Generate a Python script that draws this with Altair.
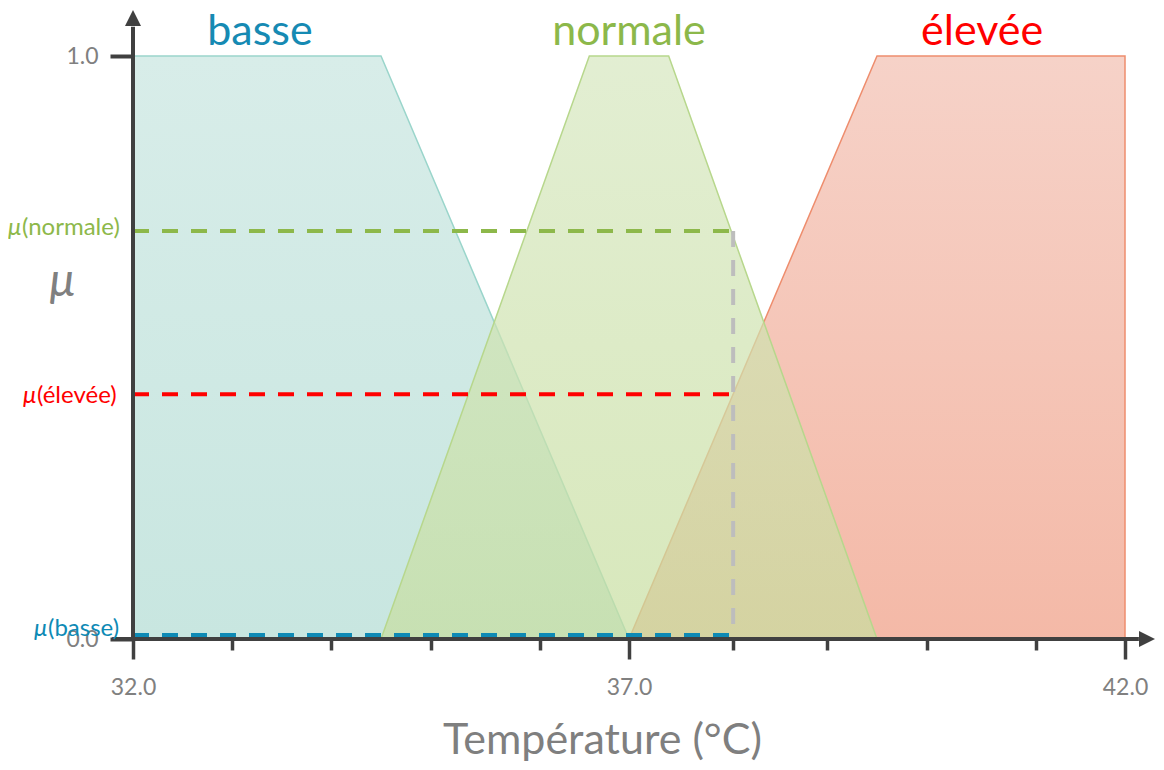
import altair as alt
import pandas as pd

# ---- membership functions (temperature in °C, membership mu) ----
basse_x = [32.0, 34.5, 37.0]
basse_mu = [1.0, 1.0, 0.0]
normale_x = [34.5, 36.6, 37.4, 39.5]
normale_mu = [0.0, 1.0, 1.0, 0.0]
elevee_x = [37.0, 39.5, 42.0]
elevee_mu = [0.0, 1.0, 1.0]

set_names = ["basse", "normale", "élevée"]
set_colors = ["#168ab3", "#8cb84a", "#ff0000"]
set_label_x = [33.28, 37.0, 40.56]
set_label_y = [1.019, 1.019, 1.019]

# ---- fuzzification of one input temperature ----
t_input = 38.05
mu_sets = ["basse", "normale", "élevée"]
mu_values = [0.007, 0.70, 0.42]
mu_texts = ["(basse)", "(normale)", "(élevée)"]
mu_label_x = [31.143, 30.881, 31.032]
mu_label_y = [0.017, 0.705, 0.416]
dash_colors = ["#0e8ab5", "#8db84a", "#ff0000"]

# ---- axes ----
x_ticks = [32, 33, 34, 35, 36.1, 37, 38.05, 39, 40, 41.1, 42]
x_major = [32, 37, 42]
y_ticks = [0, 1]
x_axis_line = [31.79, 42.14]
y_axis_line = [0.0, 1.05]
arrow_x = [42.222]
arrow_y = [1.065]

FONT = "Lato"
AXIS_COLOR = "#404040"
GRAY = "#808080"

major_test = " || ".join(f"datum.value == {v}" for v in x_major)

xs = alt.Scale(domain=[32, 42], nice=False, zero=False)
ys = alt.Scale(domain=[0, 1], nice=False, zero=False)

x_axis = alt.Axis(
    values=x_ticks, domain=False, grid=False,
    tickColor=AXIS_COLOR, tickWidth=3.5,
    tickSize={"condition": {"test": major_test, "value": 20}, "value": 11},
    labelExpr=f"({major_test}) ? format(datum.value, '.1f') : ''",
    labelFont=FONT, labelFontSize=23, labelColor=GRAY, labelPadding=17,
    labelFlush=False, labelOverlap=False, labelBound=False,
    title="Température (°C)", titleFont=FONT, titleFontSize=43,
    titleFontWeight="normal", titleColor="#7f7f7f",
    titleX=469, titleY=114, titleBaseline="alphabetic",
)
y_axis = alt.Axis(
    values=y_ticks, format=".1f", domain=False, grid=False,
    tickColor=AXIS_COLOR, tickWidth=4, tickSize=23,
    labelFont=FONT, labelFontSize=23, labelColor=GRAY, labelPadding=12,
    title="µ", titleFont=FONT, titleFontSize=46, titleFontStyle="italic",
    titleFontWeight="normal", titleColor=GRAY, titleAngle=0,
    titleX=-71, titleY=239, titleBaseline="alphabetic", titleAlign="center",
)


def X(field, **kw):
    return alt.X(field, scale=xs, axis=x_axis, **kw)


def Y(field, **kw):
    return alt.Y(field, scale=ys, axis=y_axis, **kw)


def grad(top, bottom):
    return alt.Gradient(
        gradient="linear",
        stops=[alt.GradientStop(color=top, offset=0),
               alt.GradientStop(color=bottom, offset=1)],
        x1=0, x2=0, y1=0, y2=1,
    )


df_basse = pd.DataFrame({"x": basse_x, "mu": basse_mu})
df_normale = pd.DataFrame({"x": normale_x, "mu": normale_mu})
df_elevee = pd.DataFrame({"x": elevee_x, "mu": elevee_mu})

area_basse = alt.Chart(df_basse).mark_area(
    fill=grad("#d8ede9", "#c8e6e0"), stroke="#9ad5cb", strokeWidth=1.5
).encode(x=X("x:Q"), y=Y("mu:Q"))

area_elevee = alt.Chart(df_elevee).mark_area(
    fill=grad("#f6d2c8", "#f4b9a7"), stroke="#ee8d6d", strokeWidth=1.5
).encode(x=X("x:Q"), y=Y("mu:Q"))

area_normale = alt.Chart(df_normale).mark_area(
    fill=grad("#d6e7bf", "#c7de9f"), fillOpacity=0.7,
    stroke="#b7d78c", strokeWidth=1.5
).encode(x=X("x:Q"), y=Y("mu:Q"))

df_h = pd.DataFrame({
    "set": mu_sets, "mu": mu_values, "color": dash_colors,
    "x0": [32.0] * 3, "x1": [t_input] * 3,
})
h_rules = alt.Chart(df_h).mark_rule(
    strokeWidth=4, strokeDash=[16, 13], strokeCap="butt"
).encode(
    x=X("x0:Q"), x2="x1:Q", y=Y("mu:Q"),
    color=alt.Color("color:N", scale=None),
)

df_v = pd.DataFrame({"x": [t_input], "top": [mu_values[1]], "bottom": [0.0]})
v_rule = alt.Chart(df_v).mark_rule(
    strokeWidth=4, strokeDash=[16, 13], strokeCap="butt", color="#bdbdbd"
).encode(x=X("x:Q"), y=Y("top:Q"), y2="bottom:Q")

df_xaxis = pd.DataFrame({"x0": [x_axis_line[0]], "x1": [x_axis_line[1]], "y": [0.0]})
x_line = alt.Chart(df_xaxis).mark_rule(
    strokeWidth=4, color=AXIS_COLOR, strokeCap="butt"
).encode(x=X("x0:Q"), x2="x1:Q", y=Y("y:Q"))

df_yaxis = pd.DataFrame({"x": [32.0], "y0": [y_axis_line[0]], "y1": [y_axis_line[1]]})
y_line = alt.Chart(df_yaxis).mark_rule(
    strokeWidth=4, color=AXIS_COLOR, strokeCap="butt"
).encode(x=X("x:Q"), y=Y("y0:Q"), y2="y1:Q")

df_arrow_x = pd.DataFrame({"x": arrow_x, "y": [0.0]})
arrow_right = alt.Chart(df_arrow_x).mark_point(
    shape="M1,0L-1,-1L-1,1Z", size=256, filled=True, color=AXIS_COLOR, opacity=1
).encode(x=X("x:Q"), y=Y("y:Q"))

df_arrow_y = pd.DataFrame({"x": [32.0], "y": arrow_y})
arrow_up = alt.Chart(df_arrow_y).mark_point(
    shape="M0,-1L1,1L-1,1Z", size=256, filled=True, color=AXIS_COLOR, opacity=1
).encode(x=X("x:Q"), y=Y("y:Q"))

df_sets = pd.DataFrame({"name": set_names, "color": set_colors,
                        "x": set_label_x, "y": set_label_y})
set_labels = alt.Chart(df_sets).mark_text(
    font=FONT, fontSize=43, baseline="alphabetic", align="center"
).encode(x=X("x:Q"), y=Y("y:Q"), text="name:N",
         color=alt.Color("color:N", scale=None))

df_mu = pd.DataFrame({"t": mu_texts, "mu": ["µ"] * 3, "color": dash_colors,
                      "x": mu_label_x, "y": mu_label_y})
mu_paren = alt.Chart(df_mu).mark_text(
    font=FONT, fontSize=24, baseline="middle", align="left"
).encode(x=X("x:Q"), y=Y("y:Q"), text="t:N",
         color=alt.Color("color:N", scale=None))
mu_sym = alt.Chart(df_mu).mark_text(
    font=FONT, fontSize=24, baseline="middle", align="right", fontStyle="italic"
).encode(x=X("x:Q"), y=Y("y:Q"), text="mu:N",
         color=alt.Color("color:N", scale=None))

chart = alt.layer(
    area_basse, area_elevee, area_normale,
    h_rules, v_rule, x_line, y_line, arrow_right, arrow_up,
    set_labels, mu_paren, mu_sym,
).properties(
    width=992, height=583,
    autosize=alt.AutoSizeParams(type="none"),
    padding={"left": 125, "top": 48, "right": 31, "bottom": 123},
    background="white",
).configure_view(strokeWidth=0)

chart.save("out.html", embed_options={"renderer": "svg", "actions": False})
